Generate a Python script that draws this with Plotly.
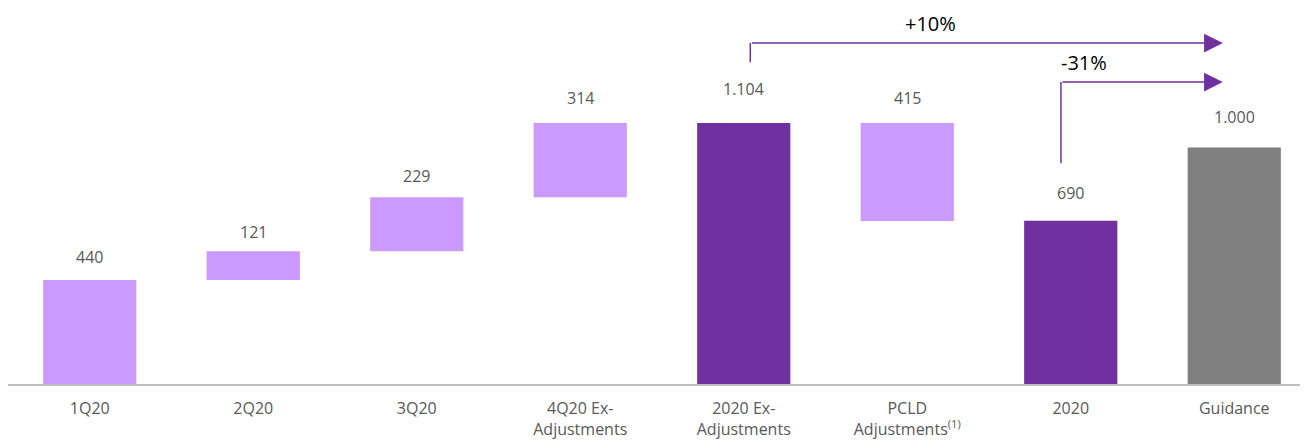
import plotly.graph_objects as go

categories = ["1Q20", "2Q20", "3Q20", "4Q20 Ex-<br>Adjustments", "2020 Ex-<br>Adjustments",
              "PCLD<br>Adjustments<sup>(1)</sup>", "2020", "Guidance"]
values = [440, 121, 229, 314, 1104, -415, 690, 1000]
kinds = ["delta", "delta", "delta", "delta", "total", "delta", "total", "guide"]
value_labels = ["440", "121", "229", "314", "1.104", "415", "690", "1.000"]
label_offsets = [23, 19, 21, 25, 34, 25, 28, 31]

growth_labels = ["+10%", "-31%"]

LIGHT = "#CC99FF"
DARK = "#7030A0"
GRAY = "#808080"

bases, heights, colors, tops = [], [], [], []
running = 0
for v, k in zip(values, kinds):
    if k == "delta":
        if v >= 0:
            bases.append(running); heights.append(v); tops.append(running + v)
        else:
            bases.append(running + v); heights.append(-v); tops.append(running)
        running += v
        colors.append(LIGHT)
    elif k == "total":
        bases.append(0); heights.append(v); tops.append(v)
        running = v
        colors.append(DARK)
    else:
        bases.append(0); heights.append(v); tops.append(v)
        colors.append(GRAY)

x_idx = list(range(len(categories)))

fig = go.Figure()
fig.add_trace(go.Bar(x=x_idx, y=heights, base=bases, marker_color=colors,
                     marker_line_width=0, width=0.57, hoverinfo="skip"))

FONT = "'Open Sans', Lato, sans-serif"
for i, (t, lab, off) in enumerate(zip(tops, value_labels, label_offsets)):
    fig.add_annotation(x=i, y=t, text=lab, showarrow=False, yanchor="middle",
                       yshift=off, font=dict(family=FONT, size=16, color="#595959"))

# growth arrows
y1, y1_start = 1442, 1361
y2, y2_start = 1277, 934
x_from1, x_from2, x_to = 4.04, 5.94, 6.93
fig.add_shape(type="line", x0=x_from1, x1=x_from1, y0=y1_start, y1=y1,
              line=dict(color=DARK, width=1.5))
fig.add_shape(type="line", x0=x_from2, x1=x_from2, y0=y2_start, y1=y2,
              line=dict(color=DARK, width=1.5))
for yy, xf in [(y1, x_from1), (y2, x_from2)]:
    fig.add_annotation(x=x_to, y=yy, ax=xf, ay=yy, axref="x", ayref="y",
                       xref="x", yref="y", text="", showarrow=True,
                       arrowhead=2, arrowsize=2.5, arrowwidth=1.5, arrowcolor=DARK)
fig.add_annotation(x=5.14, y=1526, text=growth_labels[0], showarrow=False,
                   borderpad=0,
                   font=dict(family=FONT, size=20, color="#000000"))
fig.add_annotation(x=6.08, y=1361, text=growth_labels[1], showarrow=False,
                   borderpad=0,
                   font=dict(family=FONT, size=20, color="#000000"))

fig.update_layout(
    width=1308, height=443,
    margin=dict(l=0, r=0, t=0, b=67),
    plot_bgcolor="white", paper_bgcolor="white",
    showlegend=False, bargap=0.43,
    xaxis=dict(tickmode="array", tickvals=x_idx, ticktext=categories,
               range=[-0.5, 7.5], showgrid=False, zeroline=False,
               showline=True, linecolor="#BFBFBF", linewidth=2,
               ticks="", ticklabelstandoff=9,
               tickfont=dict(family=FONT, size=16, color="#595959")),
    yaxis=dict(range=[0, 1590], visible=False, showgrid=False, zeroline=False),
)

fig.write_html("out.html")
